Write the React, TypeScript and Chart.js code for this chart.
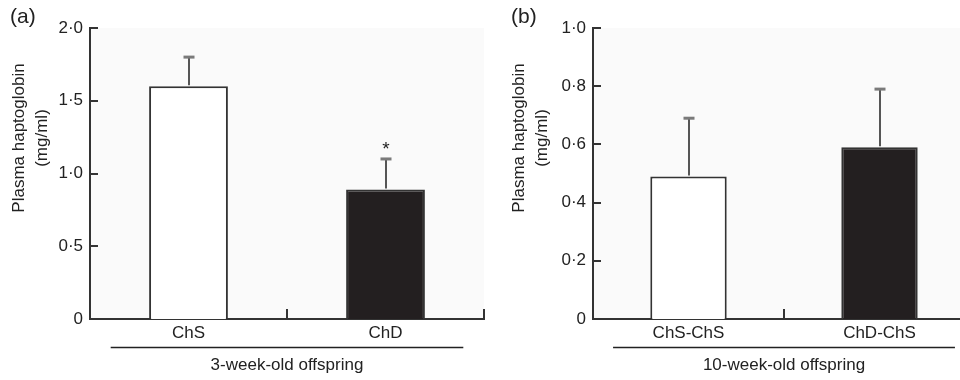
import React, { useEffect, useRef } from 'react';
import { Chart, registerables } from 'chart.js';

Chart.register(...registerables);

// ---------- data ----------
const panelACategories = ['ChS', 'ChD'];
const panelAMeans = [1.6, 0.89];
const panelAErrors = [0.2, 0.21];
const panelAMarks = ['', '*'];
const panelATickLabels = ['0', '0·5', '1·0', '1·5', '2·0'];
const panelAMax = 2.0;
const panelAStep = 0.5;
const panelAGroup = '3-week-old offspring';
const panelATag = '(a)';

const panelBCategories = ['ChS-ChS', 'ChD-ChS'];
const panelBMeans = [0.49, 0.59];
const panelBErrors = [0.2, 0.2];
const panelBMarks = ['', ''];
const panelBTickLabels = ['0', '0·2', '0·4', '0·6', '0·8', '1·0'];
const panelBMax = 1.0;
const panelBStep = 0.2;
const panelBGroup = '10-week-old offspring';
const panelBTag = '(b)';

const yTitleLines = ['Plasma haptoglobin', '(mg/ml)'];
const barFills = ['#ffffff', '#231f20'];

const FONT = '"Liberation Sans", Arial, Helvetica, sans-serif';
const INK = '#222222';
const AXIS = '#333333';
const FS = 17;

type PanelProps = {
  left: number;
  width: number;
  axisX: number;
  padRight: number;
  categories: string[];
  means: number[];
  errors: number[];
  marks: string[];
  tickLabels: string[];
  max: number;
  step: number;
  group: string;
  tag: string;
  tagX: number;
  titleX: [number, number];
};

function Panel(p: PanelProps) {
  const ref = useRef<HTMLCanvasElement | null>(null);

  useEffect(() => {
    const canvas = ref.current;
    if (!canvas) return;

    const deco = {
      id: 'deco',
      beforeDraw(chart: any) {
        const { ctx, chartArea } = chart;
        ctx.save();
        ctx.fillStyle = '#fafafa';
        ctx.fillRect(chartArea.left, chartArea.top, chartArea.right - chartArea.left, chartArea.bottom - chartArea.top);
        ctx.restore();
      },
      afterDatasetsDraw(chart: any) {
        const { ctx } = chart;
        const yScale = chart.scales.y;
        const meta = chart.getDatasetMeta(0);
        ctx.save();
        meta.data.forEach((bar: any, i: number) => {
          const top = yScale.getPixelForValue(p.means[i] + p.errors[i]);
          const x = Math.round(bar.x);
          ctx.strokeStyle = '#555555';
          ctx.lineWidth = 2;
          ctx.beginPath();
          ctx.moveTo(x, bar.y - 1);
          ctx.lineTo(x, top);
          ctx.stroke();
          ctx.strokeStyle = '#7a7a7a';
          ctx.lineWidth = 3;
          ctx.beginPath();
          ctx.moveTo(x - 5.5, top);
          ctx.lineTo(x + 5.5, top);
          ctx.stroke();
          if (p.marks[i]) {
            ctx.fillStyle = INK;
            ctx.font = `19px ${FONT}`;
            ctx.textAlign = 'center';
            ctx.textBaseline = 'alphabetic';
            ctx.fillText(p.marks[i], x, top - 4);
          }
        });
        ctx.restore();
      },
      afterDraw(chart: any) {
        const { ctx, chartArea } = chart;
        const yScale = chart.scales.y;
        const xScale = chart.scales.x;
        ctx.save();
        ctx.strokeStyle = AXIS;
        ctx.lineWidth = 2;
        // y ticks pointing inward
        yScale.ticks.forEach((t: any) => {
          const y = Math.round(yScale.getPixelForValue(t.value));
          ctx.beginPath();
          ctx.moveTo(chartArea.left, y);
          ctx.lineTo(chartArea.left + 8, y);
          ctx.stroke();
        });
        // x boundary ticks pointing upward
        const n = p.categories.length;
        const catW = (xScale.right - xScale.left) / n;
        for (let i = 1; i <= n; i++) {
          const x = Math.round(xScale.left + i * catW);
          ctx.beginPath();
          ctx.moveTo(x, chartArea.bottom);
          ctx.lineTo(x, chartArea.bottom - 10);
          ctx.stroke();
        }
        // group bracket line and label
        ctx.strokeStyle = INK;
        ctx.lineWidth = 1.5;
        ctx.beginPath();
        ctx.moveTo(xScale.left + catW * 0.105, 347.5);
        ctx.lineTo(xScale.right - catW * 0.105, 347.5);
        ctx.stroke();
        ctx.fillStyle = INK;
        ctx.font = `${FS}px ${FONT}`;
        ctx.textAlign = 'center';
        ctx.textBaseline = 'alphabetic';
        ctx.fillText(p.group, xScale.left + catW * (n / 2), 370);
        // y-axis title (two rotated lines)
        yTitleLines.forEach((line, i) => {
          ctx.save();
          ctx.translate(p.titleX[i], 138);
          ctx.rotate(-Math.PI / 2);
          ctx.textAlign = 'center';
          ctx.textBaseline = 'alphabetic';
          ctx.fillText(line, 0, 0);
          ctx.restore();
        });
        // panel tag
        ctx.font = `21px ${FONT}`;
        ctx.textAlign = 'left';
        ctx.fillText(p.tag, p.tagX, 23);
        ctx.restore();
      },
    };

    const chart = new Chart(canvas, {
      type: 'bar',
      data: {
        labels: p.categories,
        datasets: [
          {
            data: p.means,
            backgroundColor: barFills,
            borderColor: AXIS,
            borderWidth: 2,
            borderSkipped: 'start',
            barPercentage: 0.4,
            categoryPercentage: 1,
          },
        ],
      },
      options: {
        responsive: false,
        maintainAspectRatio: false,
        animation: false,
        layout: { padding: { left: 0, top: 28, right: p.padRight, bottom: 0 } },
        plugins: {
          legend: { display: false },
          tooltip: { enabled: false },
        },
        scales: {
          x: {
            grid: { display: false, drawTicks: false },
            border: { display: true, color: AXIS, width: 2 },
            ticks: { color: INK, font: { family: FONT, size: FS }, padding: 4, maxRotation: 0 },
            afterFit: (s: any) => {
              s.height = 61;
            },
          },
          y: {
            min: 0,
            max: p.max,
            grid: { display: false, drawTicks: false },
            border: { display: true, color: AXIS, width: 2 },
            ticks: {
              stepSize: p.step,
              color: INK,
              font: { family: FONT, size: FS },
              padding: 7,
              callback: (_v: any, i: number) => p.tickLabels[i],
            },
            afterFit: (s: any) => {
              s.width = p.axisX;
            },
          },
        },
      },
      plugins: [deco],
    } as any);

    return () => chart.destroy();
  }, []);

  return (
    <canvas
      ref={ref}
      width={p.width}
      height={380}
      style={{ position: 'absolute', left: p.left, top: 0, width: p.width, height: 380 }}
    />
  );
}

export default function App() {
  return (
    <div
      style={{
        position: 'absolute',
        left: 0,
        top: 0,
        width: 960,
        height: 380,
        overflow: 'hidden',
        background: '#ffffff',
      }}
    >
      <Panel
        left={0}
        width={490}
        axisX={90}
        padRight={6}
        categories={panelACategories}
        means={panelAMeans}
        errors={panelAErrors}
        marks={panelAMarks}
        tickLabels={panelATickLabels}
        max={panelAMax}
        step={panelAStep}
        group={panelAGroup}
        tag={panelATag}
        tagX={10}
        titleX={[24, 47]}
      />
      <Panel
        left={480}
        width={500}
        axisX={113}
        padRight={5}
        categories={panelBCategories}
        means={panelBMeans}
        errors={panelBErrors}
        marks={panelBMarks}
        tickLabels={panelBTickLabels}
        max={panelBMax}
        step={panelBStep}
        group={panelBGroup}
        tag={panelBTag}
        tagX={31}
        titleX={[44, 67]}
      />
    </div>
  );
}
